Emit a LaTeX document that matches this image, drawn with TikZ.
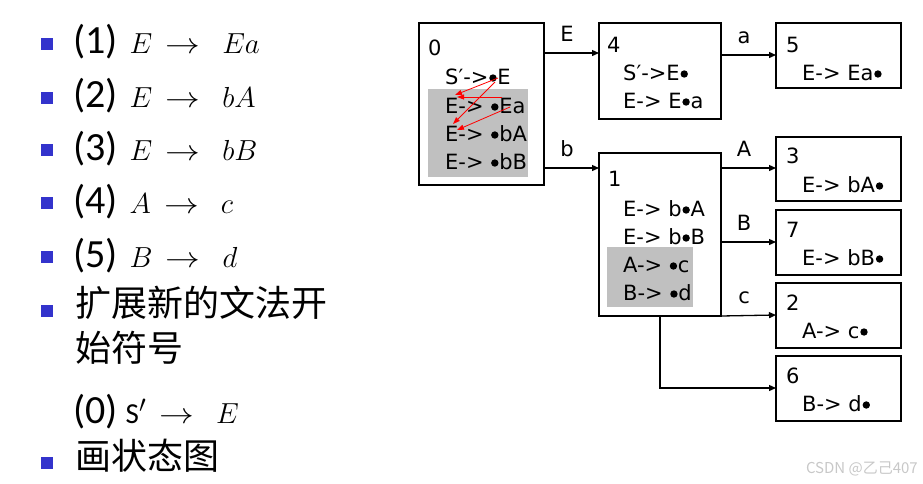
\RequirePackage{fix-cm}
\documentclass[tikz,border=0pt]{standalone}
\usepackage{graphicx}
\usepackage{fontspec}
\setmainfont{Carlito}
\newfontfamily\boxfont{DejaVu Sans}
\newfontfamily\cjkfont{Noto Sans CJK SC}
\usetikzlibrary{arrows.meta, calc, backgrounds}
\definecolor{BBlue}{HTML}{3333CC}
\definecolor{LGray}{RGB}{192,192,192}
\definecolor{WGray}{RGB}{200,200,200}
\newcommand{\listsize}{\fontsize{40}{46}\selectfont}
\newcommand{\formula}[2]{\scalebox{1.165}{\fontsize{24.88}{30}\selectfont$#1\hspace{4.3pt}\mathrel{\scalebox{1.2}[1]{$\rightarrow$}}\hspace{12pt}#2$}}
\newcommand{\itemdot}{\hspace{0.8pt}\tikz[baseline=0pt]\fill (0pt,6pt) circle[radius=3.7pt];\hspace{0.8pt}}

\begin{document}
\begin{tikzpicture}[x=1pt, y=-1pt,
    statebox/.style={draw, line width=2.6pt, anchor=north west, inner sep=0pt, outer sep=0pt},
    item/.style={font=\boxfont\fontsize{21}{24}\selectfont, inner sep=0pt, anchor=base west},
    lbl/.style={font=\boxfont\fontsize{21}{24}\selectfont, inner sep=0pt},
    edge/.style={-{Triangle[length=7pt,width=6pt]}, line width=1.3pt},
    closure/.style={red, line width=0.8pt, -{Triangle[length=7pt,width=5pt]}},
    square/.style={fill=BBlue, minimum size=12pt, inner sep=0pt},
    line/.style={inner sep=0pt, anchor=base west}]
\useasboundingbox (0,0) rectangle (923,483);

% grammar list
\node[square] (B1) at (46.5,44) {};
\node[square] (B2) at (46.5,98) {};
\node[square] (B3) at (46.5,150) {};
\node[square] (B4) at (46.5,203) {};
\node[square] (B5) at (46.5,257) {};
\node[square] (B6) at (46.5,311) {};
\node[square] (B7) at (46.5,463) {};
\node[line] (L1) at (73,53) {\listsize (1)\hspace{0.3em}\formula{E}{Ea}};
\node[line] (L2) at (73,107) {\listsize (2)\hspace{0.3em}\formula{E}{bA}};
\node[line] (L3) at (73,160) {\listsize (3)\hspace{0.3em}\formula{E}{bB}};
\node[line] (L4) at (73,213) {\listsize (4)\hspace{0.3em}\formula{A}{c}};
\node[line] (L5) at (73,267) {\listsize (5)\hspace{0.3em}\formula{B}{d}};
\node[line] (L6a) at (75,316) {\cjkfont\fontsize{36}{44}\selectfont 扩展新的文法开};
\node[line] (L6b) at (75,361) {\cjkfont\fontsize{36}{44}\selectfont 始符号};
\node[line] (L0) at (73,423) {\listsize (0)\hspace{0.2em}\formula{\mathrm{S}'}{E}};
\node[line] (L7) at (75,469) {\cjkfont\fontsize{36}{44}\selectfont 画状态图};

% states
\node[statebox, minimum width=125pt, minimum height=162pt] (S0) at (419,23) {};
\node[statebox, minimum width=122pt, minimum height=96pt] (S4) at (599,23) {};
\node[statebox, minimum width=125pt, minimum height=65pt] (S5) at (776,23) {};
\node[statebox, minimum width=122pt, minimum height=163pt] (S1) at (599,153) {};
\node[statebox, minimum width=125pt, minimum height=64pt] (S3) at (776,137) {};
\node[statebox, minimum width=125pt, minimum height=65pt] (S7) at (776,210) {};
\node[statebox, minimum width=125pt, minimum height=65pt] (S2) at (776,283) {};
\node[statebox, minimum width=125pt, minimum height=65pt] (S6) at (776,356) {};

\fill[LGray] (428,89) rectangle (528,177);
\fill[LGray] (607,247) rectangle (693,307);

\node[item] (S0-n) at (428,55) {0};
\node[item] (S0-i1) at (445,84) {S′->\itemdot E};
\node[item] (S0-i2) at (445,113) {E-> \itemdot Ea};
\node[item] (S0-i3) at (445,141) {E-> \itemdot bA};
\node[item] (S0-i4) at (445,169) {E-> \itemdot bB};

\node[item] (S4-n) at (607,52) {4};
\node[item] (S4-i1) at (623,80) {S′->E\itemdot};
\node[item] (S4-i2) at (623,108) {E-> E\itemdot a};

\node[item] (S5-n) at (786,52) {5};
\node[item] (S5-i1) at (802,80) {E-> Ea\itemdot};

\node[item] (S1-n) at (608,186) {1};
\node[item] (S1-i1) at (623,216) {E-> b\itemdot A};
\node[item] (S1-i2) at (623,244) {E-> b\itemdot B};
\node[item] (S1-i3) at (623,272) {A-> \itemdot c};
\node[item] (S1-i4) at (623,300) {B-> \itemdot d};

\node[item] (S3-n) at (786,163) {3};
\node[item] (S3-i1) at (802,192) {E-> bA\itemdot};
\node[item] (S7-n) at (786,237) {7};
\node[item] (S7-i1) at (802,265) {E-> bB\itemdot};
\node[item] (S2-n) at (786,310) {2};
\node[item] (S2-i1) at (802,338) {A-> c\itemdot};
\node[item] (S6-n) at (786,383) {6};
\node[item] (S6-i1) at (802,411) {B-> d\itemdot};

% closure arrows
\coordinate (S0-dotE) at (498,78);
\coordinate (S0-dotE2) at (495,82);
\coordinate (S0-Ea) at (502,97);
\coordinate (S0-dotEa) at (510,107);
\coordinate (S0-E1) at (455,95);
\coordinate (S0-E1b) at (457,97);
\coordinate (S0-E2) at (453,124);
\coordinate (S0-E2b) at (457,130);
\draw[closure] (S0-dotE) -- (S0-E1);
\draw[closure] (S0-Ea) -- (S0-E1b);
\draw[closure] (S0-dotE2) -- (S0-E2);
\draw[closure] (S0-dotEa) -- (S0-E2b);

% transitions
\draw[edge] ([yshift=-30pt]S0.north east) -- node[lbl, above=11pt, pos=0.42] (lE) {E} ([yshift=-30pt]S4.north west);
\draw[edge] ([yshift=-145pt]S0.north east) -- node[lbl, above=11pt, pos=0.42] (lb) {b} ([yshift=-15pt]S1.north west);
\draw[edge] ([yshift=-32pt]S4.north east) -- node[lbl, above=11pt, pos=0.42] (la) {a} ([yshift=-32pt]S5.north west);
\draw[edge] ([yshift=-15pt]S1.north east) -- node[lbl, above=11pt, pos=0.42] (lA) {A} ([yshift=-31pt]S3.north west);
\draw[edge] ([yshift=-89pt]S1.north east) -- node[lbl, above=11pt, pos=0.42] (lB) {B} ([yshift=-32pt]S7.north west);
\draw[edge] (S1.south east) -- node[lbl, above=11pt, pos=0.42] (lc) {c} ([yshift=-32pt]S2.north west);
\draw[edge] (S1.south) |- ([yshift=-32pt]S6.north west);

\node[inner sep=0pt, anchor=base east, text=WGray, font=\cjkfont\fontsize{15}{18}\selectfont] (mark) at (918,473) {CSDN @乙己407};
\end{tikzpicture}
\end{document}
